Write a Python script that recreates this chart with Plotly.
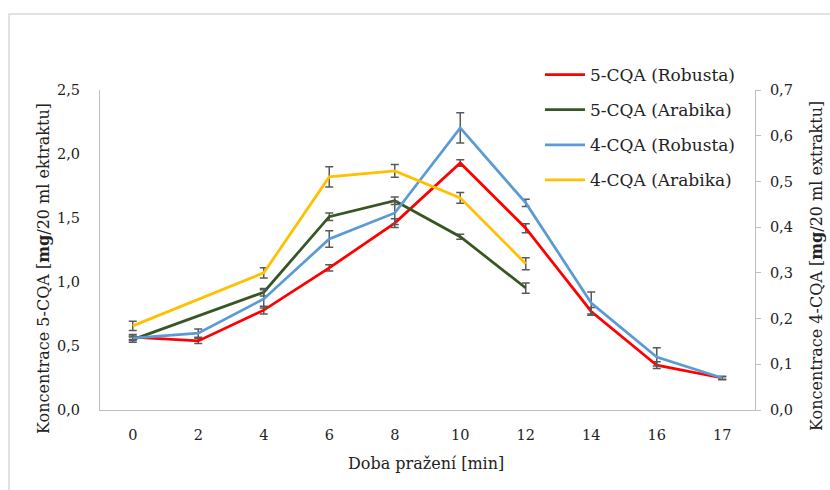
import plotly.graph_objects as go

# Roasting time categories [min]
times = ["0", "2", "4", "6", "8", "10", "12", "14", "16", "17"]
times_arabika = ["0", "4", "6", "8", "10", "12"]

# 5-CQA concentration [mg / 20 ml extract] (left axis)
cqa5_robusta = [0.57, 0.54, 0.78, 1.11, 1.46, 1.93, 1.42, 0.77, 0.35, 0.25]
cqa5_robusta_err = [0.02, 0.02, 0.03, 0.025, 0.035, 0.025, 0.035, 0.03, 0.026, 0.01]
cqa5_arabika = [0.55, 0.92, 1.51, 1.635, 1.354, 0.953]
cqa5_arabika_err = [0.02, 0.03, 0.03, 0.03, 0.02, 0.04]

# 4-CQA concentration [mg / 20 ml extract] (right axis)
cqa4_robusta = [0.157, 0.168, 0.243, 0.374, 0.431, 0.617, 0.453, 0.234, 0.116, 0.07]
cqa4_robusta_err = [0.005, 0.009, 0.02, 0.018, 0.025, 0.033, 0.008, 0.024, 0.02, 0.004]
cqa4_arabika = [0.184, 0.30, 0.51, 0.523, 0.464, 0.32]
cqa4_arabika_err = [0.01, 0.011, 0.022, 0.014, 0.012, 0.013]

FONT = "DejaVu Serif"
TEXT_COLOR = "#222222"
ERR_COLOR = "#595959"
AXIS_COLOR = "#BFBFBF"

# Plot area in pixels
L, R, T, B = 100, 755, 90, 410
W, H = R - L, B - T


def px_x(x):
    return (x - L) / W


def px_y(y):
    return (B - y) / H


def err(values):
    return dict(type="data", array=values, color=ERR_COLOR, thickness=1.5, width=4)


fig = go.Figure()
fig.add_trace(go.Scatter(x=times, y=cqa5_robusta, name="5-CQA (Robusta)", mode="lines",
                         line=dict(color="#FF0000", width=2.75), error_y=err(cqa5_robusta_err),
                         legendgroup="a"))
fig.add_trace(go.Scatter(x=times_arabika, y=cqa5_arabika, name="5-CQA (Arabika)", mode="lines",
                         line=dict(color="#375623", width=2.75), error_y=err(cqa5_arabika_err),
                         legendgroup="b"))
fig.add_trace(go.Scatter(x=times, y=cqa4_robusta, name="4-CQA (Robusta)", mode="lines",
                         line=dict(color="#5B9BD5", width=2.75), error_y=err(cqa4_robusta_err),
                         yaxis="y2", legendgroup="c"))
fig.add_trace(go.Scatter(x=times_arabika, y=cqa4_arabika, name="4-CQA (Arabika)", mode="lines",
                         line=dict(color="#FFC000", width=2.75), error_y=err(cqa4_arabika_err),
                         yaxis="y2", legendgroup="d"))

fig.update_layout(
    width=830, height=490,
    margin=dict(l=L, r=830 - R, t=T, b=490 - B),
    paper_bgcolor="white", plot_bgcolor="white",
    separators=", ",
    font=dict(family=FONT, size=14.5, color=TEXT_COLOR),
    showlegend=True,
    legend=dict(x=px_x(540), y=px_y(57), xanchor="left", yanchor="top",
                font=dict(family=FONT, size=17, color=TEXT_COLOR),
                itemwidth=40, tracegroupgap=10, bgcolor="rgba(255,255,255,0)"),
    xaxis=dict(type="category", categoryorder="array", categoryarray=times,
               showline=True, linecolor=AXIS_COLOR, linewidth=1, ticks="",
               showgrid=False, zeroline=False, ticklabelstandoff=12),
    yaxis=dict(range=[0, 2.5], dtick=0.5, tickformat=".1f",
               showline=True, linecolor=AXIS_COLOR, linewidth=1, ticks="",
               showgrid=False, zeroline=False, ticklabelstandoff=16),
    yaxis2=dict(range=[0, 0.7], dtick=0.1, tickformat=".1f", overlaying="y", side="right",
                showline=True, linecolor=AXIS_COLOR, linewidth=1,
                ticks="outside", ticklen=5, tickcolor=AXIS_COLOR,
                showgrid=False, zeroline=False, ticklabelstandoff=6),
)

# Axis titles
title_font = dict(family=FONT, size=16, color=TEXT_COLOR)
fig.add_annotation(text="Doba pražení [min]", xref="paper", yref="paper",
                   x=px_x(426), y=px_y(463), showarrow=False, font=title_font,
                   xanchor="center", yanchor="middle")
fig.add_annotation(text="Koncentrace 5-CQA [<b>mg</b>/20 ml ektraktu]", xref="paper", yref="paper",
                   x=px_x(43), y=px_y(269), showarrow=False, font=title_font, textangle=-90,
                   xanchor="center", yanchor="middle")
fig.add_annotation(text="Koncentrace 4-CQA [<b>mg</b>/20 ml extraktu]", xref="paper", yref="paper",
                   x=px_x(816), y=px_y(266), showarrow=False, font=title_font, textangle=-90,
                   xanchor="center", yanchor="middle")

# Outer chart frame
fig.add_shape(type="rect", xref="paper", yref="paper",
              x0=px_x(9), x1=px_x(840), y0=px_y(500), y1=px_y(14),
              line=dict(color="#D9D9D9", width=1.5), layer="below")

fig.write_html("out.html")
